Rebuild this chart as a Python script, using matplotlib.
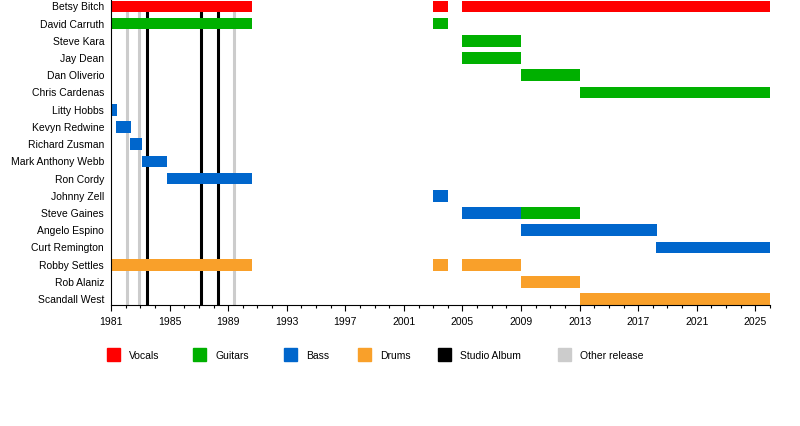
import matplotlib
matplotlib.use("Agg")
import matplotlib.pyplot as plt
from matplotlib.patches import Rectangle
from matplotlib.ticker import MultipleLocator, FixedLocator

plt.rcParams['font.family'] = ['Liberation Sans', 'DejaVu Sans']

# ---- data ----
members = ["Betsy Bitch", "David Carruth", "Steve Kara", "Jay Dean", "Dan Oliverio",
           "Chris Cardenas", "Litty Hobbs", "Kevyn Redwine", "Richard Zusman",
           "Mark Anthony Webb", "Ron Cordy", "Johnny Zell", "Steve Gaines",
           "Angelo Espino", "Curt Remington", "Robby Settles", "Rob Alaniz", "Scandall West"]

vocals = [("Betsy Bitch", 1981.0, 1990.63), ("Betsy Bitch", 2003.0, 2004.0),
          ("Betsy Bitch", 2005.0, 2026.0)]
guitars = [("David Carruth", 1981.0, 1990.63), ("David Carruth", 2003.0, 2004.0),
           ("Steve Kara", 2005.0, 2009.0), ("Jay Dean", 2005.0, 2009.0),
           ("Dan Oliverio", 2009.0, 2013.0), ("Chris Cardenas", 2013.0, 2026.0),
           ("Steve Gaines", 2009.0, 2013.0)]
bass = [("Litty Hobbs", 1981.0, 1981.4), ("Kevyn Redwine", 1981.35, 1982.35),
        ("Richard Zusman", 1982.3, 1983.15), ("Mark Anthony Webb", 1983.15, 1984.85),
        ("Ron Cordy", 1984.85, 1990.63), ("Johnny Zell", 2003.0, 2004.0),
        ("Steve Gaines", 2005.0, 2009.0), ("Angelo Espino", 2009.0, 2018.25),
        ("Curt Remington", 2018.2, 2026.0)]
drums = [("Robby Settles", 1981.0, 1990.63), ("Robby Settles", 2003.0, 2004.0),
         ("Robby Settles", 2005.0, 2009.0), ("Rob Alaniz", 2009.0, 2013.0),
         ("Scandall West", 2013.0, 2026.0)]

studio_albums = [1983.48, 1987.17, 1988.33]
other_releases = [1982.07, 1982.93, 1989.43]

roles = [("Vocals", "#ff0000", vocals), ("Guitars", "#00b000", guitars),
         ("Bass", "#0066cc", bass), ("Drums", "#f9a02a", drums)]

FS = 7.5

# ---- plot ----
fig = plt.figure(figsize=(8, 4.26), dpi=100)
ax = fig.add_axes([111/800, 1 - 305/426, (770-111)/800, 305/426 - 0.5/426])

for x in other_releases:
    ax.axvline(x, color="#cccccc", lw=2.2, zorder=1)
for x in studio_albums:
    ax.axvline(x, color="black", lw=2.2, zorder=1)

row = {m: i for i, m in enumerate(members)}
for name, col, spans in roles:
    for m, s, e in spans:
        ax.barh(row[m], e - s, left=s, height=0.68, color=col, zorder=2)

ax.set_xlim(1981, 2026)
ax.set_ylim(len(members) - 1 + 0.34, -0.34)
ax.set_yticks(range(len(members)))
ax.set_yticklabels(members, fontsize=FS)
ax.tick_params(axis="y", length=0, pad=5)
ax.xaxis.set_major_locator(FixedLocator(range(1981, 2026, 4)))
ax.xaxis.set_minor_locator(MultipleLocator(1))
ax.tick_params(axis="x", which="major", length=4, width=0.8, labelsize=FS, pad=4.5)
ax.tick_params(axis="x", which="minor", length=2, width=0.8)
for sp in ("top", "right"):
    ax.spines[sp].set_visible(False)
for sp in ("left", "bottom"):
    ax.spines[sp].set_linewidth(0.8)

# ---- legend ----
legend_items = [("Vocals", "#ff0000"), ("Guitars", "#00b000"), ("Bass", "#0066cc"),
                ("Drums", "#f9a02a"), ("Studio Album", "black"), ("Other release", "#cccccc")]
legend_x = [107, 193, 284, 358, 438, 558]
for (lab, col), px in zip(legend_items, legend_x):
    fig.patches.append(Rectangle((px/800, 1 - 361/426), 13/800, 13/426,
                                 transform=fig.transFigure, color=col))
    fig.text((px + 22)/800, 1 - 356/426, lab, fontsize=FS, va="center", ha="left")

fig.savefig("out.png", dpi=100)
